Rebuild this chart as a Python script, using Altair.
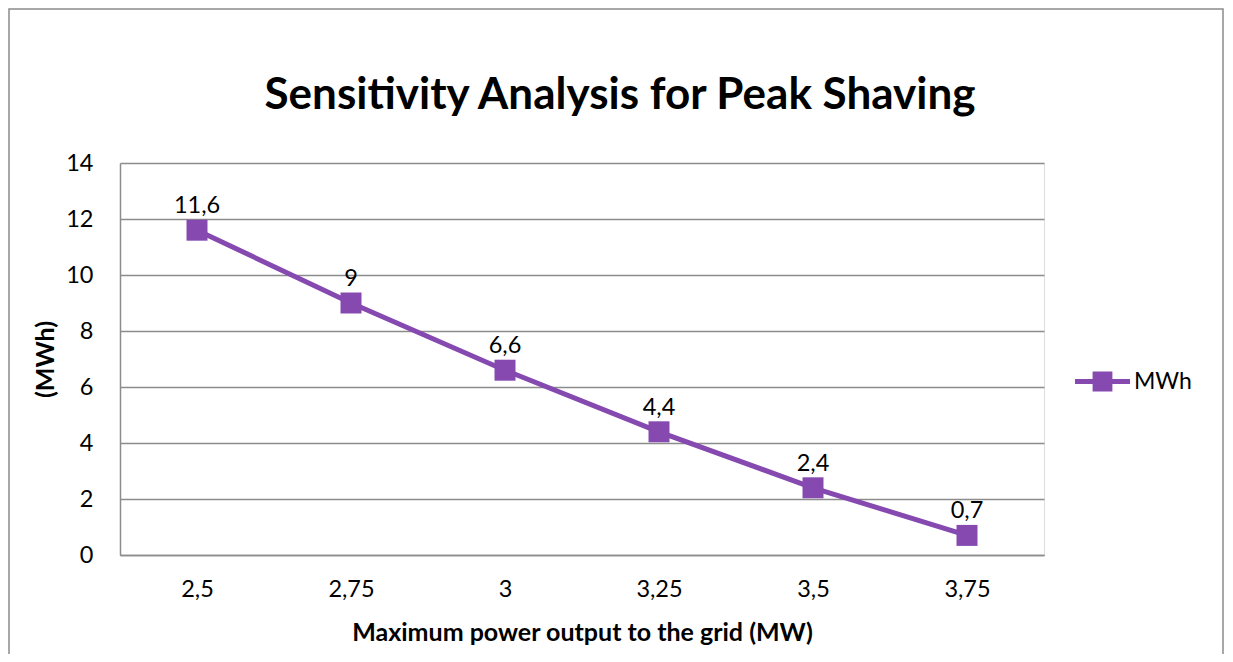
import altair as alt
import pandas as pd

categories = ["2,5", "2,75", "3", "3,25", "3,5", "3,75"]
values = [11.6, 9.0, 6.6, 4.4, 2.4, 0.7]
labels = ["11,6", "9", "6,6", "4,4", "2,4", "0,7"]
series = "MWh"
title_text = "Sensitivity Analysis for Peak Shaving"

PURPLE = "#8549B0"
GRID = "#8C8C8C"
FONT = "Lato"

df = pd.DataFrame({"x": categories, "y": values, "label": labels, "series": [series] * len(values)})
one_df = pd.DataFrame({"t": [title_text]})

W, H = 924, 392

xenc = alt.X(
    "x:N", sort=categories,
    scale=alt.Scale(type="point", padding=0.5),
    axis=alt.Axis(
        title="Maximum power output to the grid (MW)", labelAngle=0,
        ticks=False, domainColor=GRID, domainWidth=1.5,
        labelFontSize=23.5, labelPadding=22, labelFont=FONT, labelColor="#000",
        titleFontSize=25, titleFont=FONT, titleFontWeight="bold", titleColor="#000",
        titleY=77, titleBaseline="middle",
    ),
)
yenc = alt.Y(
    "y:Q",
    scale=alt.Scale(domain=[0, 14], nice=False),
    axis=alt.Axis(
        title="(MWh)", values=list(range(0, 15, 2)), ticks=False,
        domainColor=GRID, domainWidth=1.5, gridColor=GRID, gridWidth=1.5,
        labelFontSize=23.5, labelPadding=27, labelFont=FONT, labelColor="#000",
        titleFontSize=25, titleFont=FONT, titleFontWeight="bold", titleColor="#000",
        titleX=-75, titleBaseline="middle",
    ),
)
color = alt.Color(
    "series:N",
    scale=alt.Scale(domain=[series], range=[PURPLE]),
    legend=alt.Legend(
        title=None, orient="none", legendX=955, legendY=191,
        symbolType="M-1,-0.09H1V0.09H-1Z M-0.36,-0.36H0.36V0.36H-0.36Z",
        symbolSize=3025, symbolFillColor=PURPLE, symbolStrokeWidth=0,
        labelFontSize=23, labelFont=FONT, labelColor="#000", labelOffset=4,
    ),
)

frame = alt.Chart(one_df).mark_rect(filled=False, stroke="#8C8C8C", strokeWidth=1.5).encode(
    x=alt.value(-111), x2=alt.value(1103), y=alt.value(-154), y2=alt.value(600)
)
title = alt.Chart(one_df).mark_text(
    fontSize=44, font=FONT, fontWeight="bold", color="#000", align="center", baseline="alphabetic"
).encode(x=alt.value(500), y=alt.value(-54), text="t:N")

base = alt.Chart(df)
line = base.mark_line(strokeWidth=5).encode(x=xenc, y=yenc, color=color)
pts = base.mark_point(shape="square", filled=True, size=440, opacity=1).encode(x=xenc, y=yenc, color=color)
text = base.mark_text(fontSize=23.5, font=FONT, dy=-17, baseline="alphabetic", color="#000").encode(
    x=xenc, y=yenc, text="label:N"
)

chart = alt.layer(frame, title, line, pts, text).properties(
    width=W, height=H,
    padding={"left": 112, "top": 155, "right": 181, "bottom": 99},
    autosize=alt.AutoSizeParams(type="none"),
).configure_view(stroke=None).configure(background="white")

chart.save("out.html", embed_options={"renderer": "svg", "actions": False})
